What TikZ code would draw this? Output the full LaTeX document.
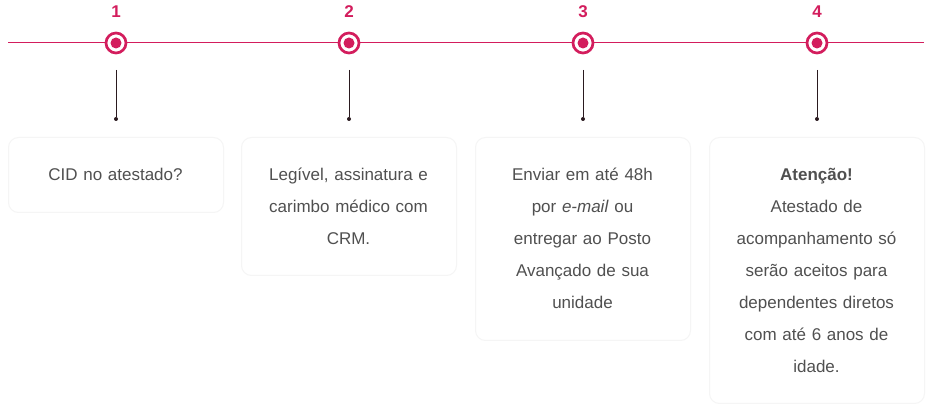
\documentclass[tikz,border=0pt]{standalone}
\usepackage{fontspec}
\setmainfont{Liberation Sans}
\definecolor{crim}{HTML}{D31D5D}
\definecolor{txt}{HTML}{505050}
\definecolor{stemc}{HTML}{2A1A1F}
\definecolor{boxline}{HTML}{F5F5F5}
\begin{document}
\begin{tikzpicture}[x=1pt,y=-1pt,
  ring/.style={circle,draw=crim,line width=2.7pt,fill=white,minimum size=20pt,inner sep=0pt},
  core/.style={circle,fill=crim,minimum size=11pt,inner sep=0pt},
  stemdot/.style={circle,fill=stemc,minimum size=4pt,inner sep=0pt},
  stemline/.style={draw=stemc,line width=0.9pt},
  axis/.style={draw=crim,line width=1pt},
  num/.style={text=crim,font=\fontsize{17}{20}\selectfont\bfseries,inner sep=0pt,anchor=base},
  card/.style={draw=boxline,line width=1pt,rounded corners=10pt,fill=white,anchor=north west,minimum width=215pt,inner sep=0pt},
  cardtext/.style={text=txt,font=\fontsize{17}{32}\selectfont,align=center,text width=212pt,inner sep=0pt,anchor=north}
]
\useasboundingbox[fill=white] (0,0) rectangle (932,411);
\coordinate (L) at (8,43);
\coordinate (R) at (924,43);
\draw[axis] (L) -- (R);
\foreach \i/\x in {1/116,2/349,3/583,4/817}{
  \node[num] (n\i) at (\x,18) {\i};
  \node[ring] (r\i) at (\x,43) {};
  \node[core] (k\i) at (\x,43) {};
  \coordinate (s\i) at (\x,70);
  \node[stemdot] (d\i) at (\x,119) {};
  \draw[stemline] (s\i) -- (d\i);
}
\node[card,minimum height=75pt] (b1) at (8,137) {};
\node[card,minimum height=138pt] (b2) at (241,137) {};
\node[card,minimum height=203pt] (b3) at (475,137) {};
\node[card,minimum height=266pt] (b4) at (709,137) {};
\node[cardtext] (t1) at (115.5,160) {\rule{0pt}{20pt}CID no atestado?};
\node[cardtext] (t2) at (348.5,160) {\rule{0pt}{20pt}Legível, assinatura e\\carimbo médico com\\CRM.};
\node[cardtext] (t3) at (582.5,160) {\rule{0pt}{20pt}Enviar em até 48h\\por \textit{e-mail} ou\\entregar ao Posto\\Avançado de sua\\unidade};
\node[cardtext] (t4) at (816.5,160) {\rule{0pt}{20pt}\textbf{Atenção!}\\Atestado de\\acompanhamento só\\serão aceitos para\\dependentes diretos\\com até 6 anos de\\idade.};
\end{tikzpicture}
\end{document}
